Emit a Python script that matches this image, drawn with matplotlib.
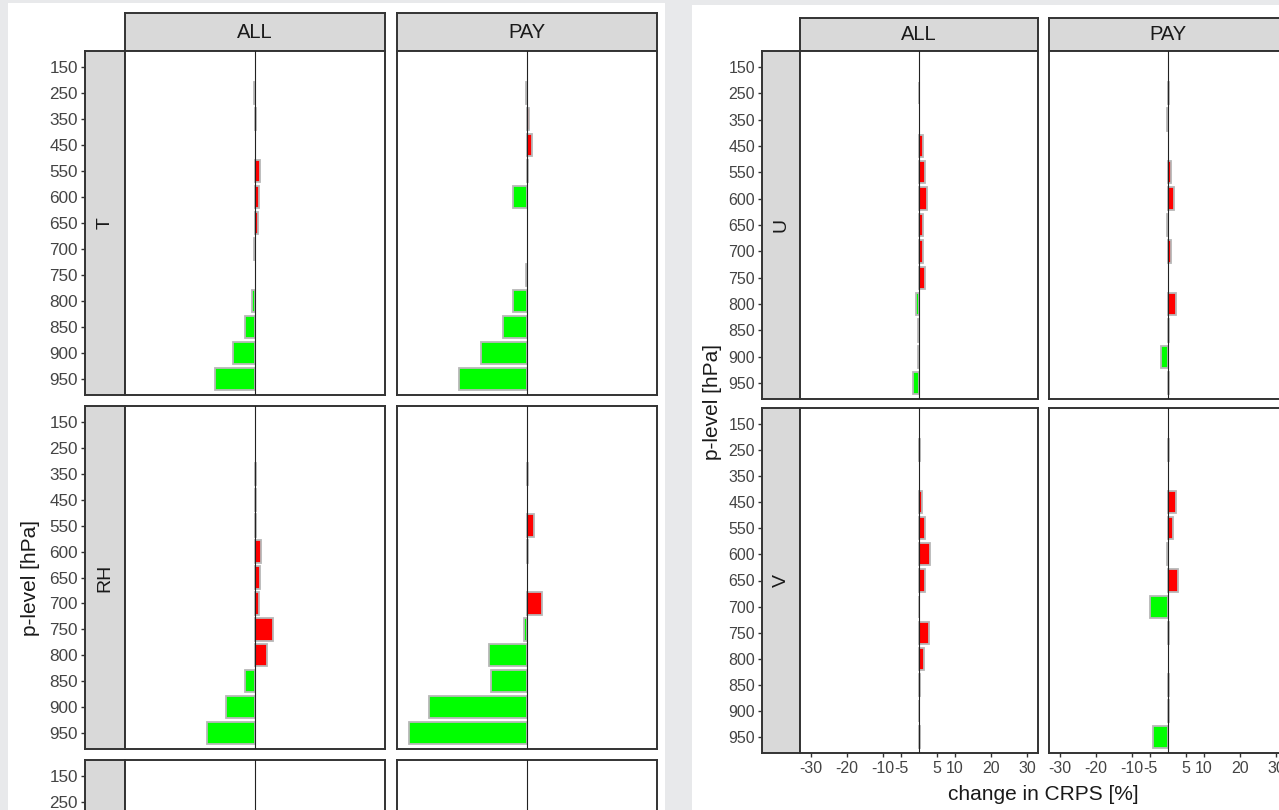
import numpy as np
import matplotlib.pyplot as plt
from matplotlib.patches import Rectangle

W, H = 1279, 810

# pressure levels, top to bottom
levels = ["150", "250", "350", "450", "550", "600", "650",
          "700", "750", "800", "850", "900", "950"]
columns = ["ALL", "PAY"]

# change in CRPS [%] per level (0 = no bar drawn)
t_all = [0, -0.3, 0.3, 0, 1.3, 1.0, 0.8, -0.3, 0, -0.85, -2.5, -5.6, -10.2]
t_pay = [0, -0.3, 0.5, 1.2, 0.3, -3.6, 0, 0, -0.3, -3.6, -6.2, -11.7, -17.2]
rh_all = [0, 0, 0.2, 0.2, 0.3, 1.4, 1.3, 1.1, 4.5, 3.0, -2.5, -7.4, -12.3]
rh_pay = [0, 0, 0.3, 0, 1.7, 0.3, 0, 3.8, -0.85, -9.6, -9.1, -24.8, -30.0]
u_all = [0, 0.1, 0, 1.1, 1.8, 2.3, 1.2, 1.2, 1.8, -0.9, -0.2, -0.2, -1.8]
u_pay = [0, 0.2, -0.2, 0, 0.9, 1.7, -0.2, 0.8, 0, 2.3, 0.2, -1.9, 0.2]
v_all = [0, 0.2, 0, 0.9, 1.8, 3.0, 1.8, 0.1, 2.8, 1.4, 0.3, 0.1, 0.2]
v_pay = [0, 0.3, 0, 2.2, 1.3, -0.2, 2.9, -4.9, 0.3, 0, 0.3, 0.3, -4.2]

xticks = [-30, -20, -10, -5, 5, 10, 20, 30]

GREEN = "#00ff00"
RED = "#ff0000"
EDGE = "#b8b8b8"
BORDER = "#333333"
STRIP = "#d9d9d9"
TICKTXT = "#444444"
XLIM = 33

plt.rcParams["font.family"] = ["Liberation Sans", "DejaVu Sans"]


def px(x0, y0, x1, y1):
    # pixel box (top-left origin) -> figure fraction rect
    return [x0 / W, 1 - y1 / H, (x1 - x0) / W, (y1 - y0) / H]


def frame(ax, lw=1.4):
    for s in ax.spines.values():
        s.set_color(BORDER)
        s.set_linewidth(lw)


def set_levels(ax):
    ax.set_ylim(len(levels) - 1 + 0.6, -0.6)


def panel(fig, box, values=None, show_x=False):
    ax = fig.add_axes(px(*box))
    pos = np.arange(len(levels))
    if values is not None:
        vals = np.array(values, dtype=float)
        keep = vals != 0
        colors = np.where(vals < 0, GREEN, RED)
        ax.barh(pos[keep], vals[keep], height=0.85, color=colors[keep],
                edgecolor=EDGE, linewidth=1.3, zorder=2)
    ax.axvline(0, color="#222222", lw=0.8, zorder=3)
    ax.set_xlim(-XLIM, XLIM)
    set_levels(ax)
    ax.set_yticks([])
    if show_x:
        ax.set_xticks(xticks)
        ax.set_xticklabels([str(t) for t in xticks])
        ax.tick_params(axis="x", direction="out", length=3, width=1,
                       color=BORDER, labelcolor=TICKTXT, labelsize=11.5, pad=3)
    else:
        ax.set_xticks([])
    frame(ax)
    return ax


def row_strip(fig, box, label, size):
    ax = fig.add_axes(px(*box), facecolor=STRIP)
    set_levels(ax)
    ax.set_xticks([])
    ax.set_yticks(np.arange(len(levels)))
    ax.set_yticklabels(levels)
    ax.tick_params(axis="y", direction="out", length=3, width=1,
                   color=BORDER, labelcolor=TICKTXT, labelsize=size, pad=2)
    if label:
        ax.text(0.5, 0.5, label, transform=ax.transAxes, rotation=90,
                ha="center", va="center", fontsize=14, color="#1a1a1a")
    frame(ax)
    return ax


def col_strip(fig, box, label):
    ax = fig.add_axes(px(*box), facecolor=STRIP)
    ax.set_xticks([])
    ax.set_yticks([])
    ax.text(0.5, 0.5, label, transform=ax.transAxes,
            ha="center", va="center", fontsize=14.5, color="#1a1a1a")
    frame(ax)
    return ax


fig = plt.figure(figsize=(W / 100, H / 100), dpi=100, facecolor="#e8e9eb")

# the two white pages
fig.patches.append(Rectangle((8 / W, 0), (665 - 8) / W, (H - 3) / H,
                             transform=fig.transFigure, facecolor="white",
                             edgecolor="none", zorder=-1))
fig.patches.append(Rectangle((692 / W, 0), (W - 692) / W, (H - 5) / H,
                             transform=fig.transFigure, facecolor="white",
                             edgecolor="none", zorder=-1))

# ---- left page: T, RH (and a third row cut off) ----
left_cols = [(125, 385), (397, 657)]
left_rows = [(51, 395), (406, 749), (760, 1104)]
left_data = [("T", [t_all, t_pay]), ("RH", [rh_all, rh_pay]), ("", [None, None])]

for (x0, x1), name in zip(left_cols, columns):
    col_strip(fig, (x0, 13, x1, 51), name)

strips = []
for (y0, y1), (var, series) in zip(left_rows, left_data):
    strips.append(row_strip(fig, (85, y0, 125, y1), var, 12.3))
    for (x0, x1), vals in zip(left_cols, series):
        panel(fig, (x0, y0, x1, y1), vals)

fig.text(30 / W, 1 - 578 / H, "p-level [hPa]", rotation=90, ha="center",
         va="center", fontsize=15, color="#1a1a1a")

# ---- right page: U, V ----
right_cols = [(800, 1038), (1049, 1287)]
right_rows = [(51, 399), (408, 753)]
right_data = [("U", [u_all, u_pay]), ("V", [v_all, v_pay])]

for (x0, x1), name in zip(right_cols, columns):
    col_strip(fig, (x0, 18, x1, 51), name)

for i, ((y0, y1), (var, series)) in enumerate(zip(right_rows, right_data)):
    strips.append(row_strip(fig, (762, y0, 800, y1), var, 11.5))
    for (x0, x1), vals in zip(right_cols, series):
        panel(fig, (x0, y0, x1, y1), vals, show_x=(i == len(right_rows) - 1))

fig.text(712 / W, 1 - 402 / H, "p-level [hPa]", rotation=90, ha="center",
         va="center", fontsize=15, color="#1a1a1a")
fig.text(1043 / W, 1 - 795 / H, "change in CRPS [%]", ha="center",
         va="center", fontsize=15, color="#1a1a1a")

# hide tick labels lying wholly below the page (third row is cut off)
fig.canvas.draw()
for ax in strips:
    for lab, tick in zip(ax.get_yticklabels(), ax.yaxis.get_major_ticks()):
        if lab.get_window_extent().y1 < 0:
            tick.label1.set_visible(False)

fig.savefig("out.png", dpi=100)
